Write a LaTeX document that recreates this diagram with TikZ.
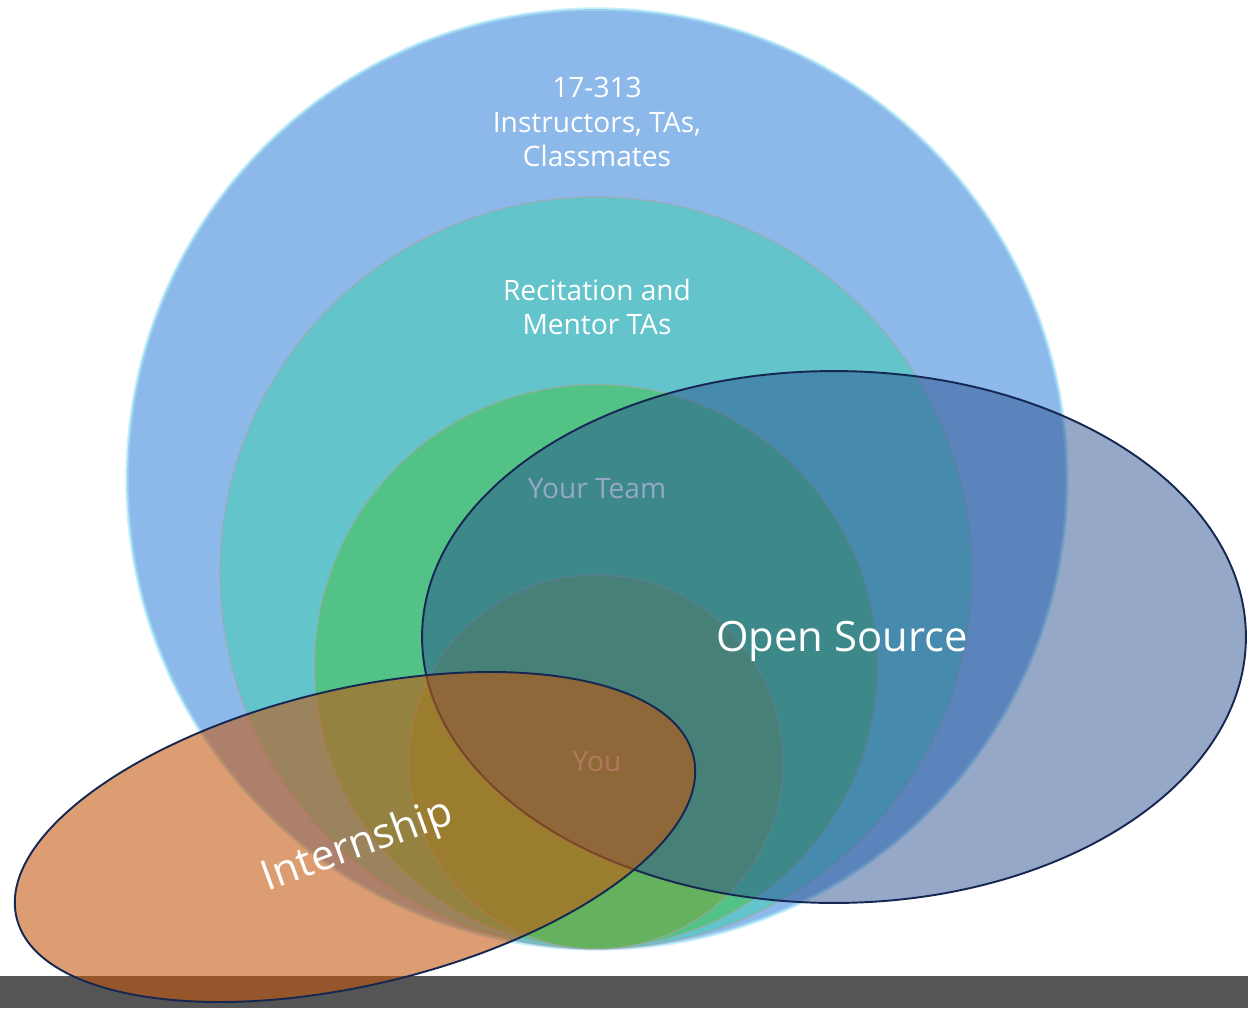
\documentclass[tikz,border=0pt]{standalone}
\usepackage{fontspec}
\setmainfont{Open Sans}
\usepackage{xcolor}
\usepackage{tikz}
\usetikzlibrary{shapes.geometric,positioning}

\definecolor{ring1}{RGB}{141,185,234}
\definecolor{ring2}{RGB}{99,196,203}
\definecolor{ring3}{RGB}{82,194,134}
\definecolor{ring4}{RGB}{100,178,94}
\definecolor{osblue}{RGB}{41,78,143}
\definecolor{internorange}{RGB}{196,87,14}
\definecolor{rimnavy}{RGB}{22,40,82}
\definecolor{bargray}{RGB}{85,85,85}

\begin{document}
\begin{tikzpicture}[
      x=0.02cm, y=-0.02cm,
      ring_node/.style={
         circle,
         draw=black!35,
         draw opacity=0.6,
         line width=0.8pt,
         inner sep=0pt},
      ring_text/.style={
         text=white,
         align=center,
         font=\fontsize{16}{19.4}\selectfont},
      blob_node/.style={
         ellipse,
         draw=rimnavy,
         line width=1.1pt,
         fill opacity=0.5,
         draw opacity=1,
         inner sep=0pt},
      blob_text/.style={
         text=white,
         font=\fontsize{23.8}{28}\selectfont}
]
      \useasboundingbox (0,0) rectangle (1248,1008);
      %footer bar
      \fill[bargray] (0,976) rectangle (1248,1008);

      %nested circles
      \node[ring_node,fill=ring1,minimum size=18.8cm,draw=ring1!70!cyan!60!white,line width=2pt] (c1) at (597,479) {};
      \node[ring_node,fill=ring2,minimum size=15.04cm] (c2) at (596,573) {};
      \node[ring_node,fill=ring3,minimum size=11.26cm] (c3) at (596,666) {};
      \node[ring_node,fill=ring4,minimum size=7.48cm] (c4) at (596,762) {};

      \node[ring_text] (t1) at (597,122) {17-313\\Instructors, TAs,\\Classmates};
      \node[ring_text] (t2) at (597,307) {Recitation and\\Mentor TAs};
      \node[ring_text] (t3) at (597,489) {Your Team};
      \node[ring_text] (t4) at (597,762) {You};

      %overlapping groups
      \node[blob_node,fill=osblue,fill opacity=0.49,minimum width=16.48cm,minimum height=10.64cm] (os) at (834,637) {};
      \node[blob_node,fill=internorange,fill opacity=0.58,minimum width=13.92cm,minimum height=5.92cm,rotate=13.4] (intern) at (355,837) {};

      \node[blob_text] (os_lbl) at (842,641) {Open Source};
      \node[blob_text,rotate=20] (intern_lbl) at (358,847) {Internship};
\end{tikzpicture}
\end{document}
